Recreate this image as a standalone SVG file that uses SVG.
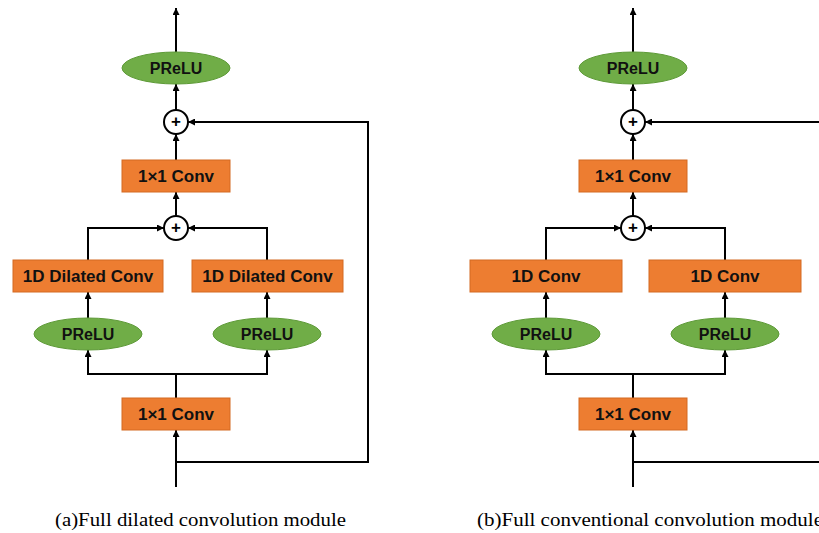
<svg xmlns="http://www.w3.org/2000/svg" width="819" height="533" viewBox="0 0 819 533">
  <defs>
    <marker id="arrow" viewBox="0 0 10 10" refX="10" refY="5" markerWidth="7" markerHeight="7" markerUnits="userSpaceOnUse" orient="auto">
      <path d="M0,0 L10,5 L0,10 z" fill="#000"/>
    </marker>
  </defs>
  <style>
    .box { fill: #ED7D31; stroke: #D46A22; stroke-width: 1; }
    .act { fill: #70AD47; stroke: #5E9A38; stroke-width: 1; }
    .sum { fill: #fff; stroke: #000; stroke-width: 2; }
    .lbl { font-family: "Liberation Sans", Arial, sans-serif; font-weight: bold; font-size: 16px; fill: #111; text-anchor: middle; dominant-baseline: central; }
    .blbl { font-size: 17px; }
    .plus { font-family: "Liberation Sans", Arial, sans-serif; font-weight: bold; font-size: 17px; fill: #000; text-anchor: middle; dominant-baseline: central; }
    .cap { font-family: "Liberation Serif", "Times New Roman", serif; font-size: 18px; fill: #000; }
    .wire { fill: none; stroke: #000; stroke-width: 2; }
    .arr { marker-end: url(#arrow); }
  </style>

  <!-- (a) full dilated convolution module -->
  <g id="moduleA">
    <g id="connectorsA">
      <path class="wire arr" d="M176,52 V8"/>
      <path class="wire arr" d="M176,110 V84"/>
      <path class="wire arr" d="M176,160 V134"/>
      <path class="wire arr" d="M176,216 V192"/>
      <path class="wire arr" d="M88,260 V228 H164"/>
      <path class="wire arr" d="M267,260 V228 H188"/>
      <path class="wire arr" d="M88,318 V292"/>
      <path class="wire arr" d="M267,318 V292"/>
      <path class="wire" d="M176,398 V374"/>
      <path class="wire arr" d="M176,374 H88 V350"/>
      <path class="wire arr" d="M176,374 H267 V350"/>
      <path class="wire arr" d="M176,487 V430"/>
      <path class="wire arr" d="M176,462 H368 V122 H188"/>
    </g>
    <g id="a-prelu-out"><ellipse class="act" cx="176" cy="68" rx="54" ry="16"/><text class="lbl" x="176" y="68">PReLU</text></g>
    <g id="a-sum-out"><circle class="sum" cx="176" cy="122" r="12"/><text class="plus" x="176" y="121">+</text></g>
    <g id="a-conv1x1-out"><rect class="box" x="122" y="160" width="108" height="32"/><text class="lbl blbl" x="176" y="176">1×1 Conv</text></g>
    <g id="a-sum-branch"><circle class="sum" cx="176" cy="228" r="12"/><text class="plus" x="176" y="227">+</text></g>
    <g id="a-dconv-left"><rect class="box" x="13" y="260" width="150" height="32"/><text class="lbl blbl" x="88" y="276">1D Dilated Conv</text></g>
    <g id="a-dconv-right"><rect class="box" x="192" y="260" width="151" height="32"/><text class="lbl blbl" x="267.5" y="276">1D Dilated Conv</text></g>
    <g id="a-prelu-left"><ellipse class="act" cx="88" cy="334" rx="54" ry="16"/><text class="lbl" x="88" y="334">PReLU</text></g>
    <g id="a-prelu-right"><ellipse class="act" cx="267" cy="334" rx="54" ry="16"/><text class="lbl" x="267" y="334">PReLU</text></g>
    <g id="a-conv1x1-in"><rect class="box" x="122" y="398" width="108" height="32"/><text class="lbl blbl" x="176" y="414">1×1 Conv</text></g>
  </g>

  <!-- (b) full conventional convolution module -->
  <g id="moduleB">
    <g id="connectorsB">
      <path class="wire arr" d="M633,52 V8"/>
      <path class="wire arr" d="M633,110 V84"/>
      <path class="wire arr" d="M633,160 V134"/>
      <path class="wire arr" d="M633,216 V192"/>
      <path class="wire arr" d="M546,260 V228 H621"/>
      <path class="wire arr" d="M725,260 V228 H645"/>
      <path class="wire arr" d="M546,318 V292"/>
      <path class="wire arr" d="M725,318 V292"/>
      <path class="wire" d="M633,398 V374"/>
      <path class="wire arr" d="M633,374 H546 V350"/>
      <path class="wire arr" d="M633,374 H725 V350"/>
      <path class="wire arr" d="M633,487 V430"/>
      <path class="wire arr" d="M633,462 H830 V122 H645"/>
    </g>
    <g id="b-prelu-out"><ellipse class="act" cx="633" cy="68" rx="54" ry="16"/><text class="lbl" x="633" y="68">PReLU</text></g>
    <g id="b-sum-out"><circle class="sum" cx="633" cy="122" r="12"/><text class="plus" x="633" y="121">+</text></g>
    <g id="b-conv1x1-out"><rect class="box" x="579" y="160" width="108" height="32"/><text class="lbl blbl" x="633" y="176">1×1 Conv</text></g>
    <g id="b-sum-branch"><circle class="sum" cx="633" cy="228" r="12"/><text class="plus" x="633" y="227">+</text></g>
    <g id="b-conv-left"><rect class="box" x="470" y="260" width="152" height="32"/><text class="lbl blbl" x="546" y="276">1D Conv</text></g>
    <g id="b-conv-right"><rect class="box" x="649" y="260" width="152" height="32"/><text class="lbl blbl" x="725" y="276">1D Conv</text></g>
    <g id="b-prelu-left"><ellipse class="act" cx="546" cy="334" rx="54" ry="16"/><text class="lbl" x="546" y="334">PReLU</text></g>
    <g id="b-prelu-right"><ellipse class="act" cx="725" cy="334" rx="54" ry="16"/><text class="lbl" x="725" y="334">PReLU</text></g>
    <g id="b-conv1x1-in"><rect class="box" x="579" y="398" width="108" height="32"/><text class="lbl blbl" x="633" y="414">1×1 Conv</text></g>
  </g>

  <!-- captions -->
  <text class="cap" x="55" y="526" textLength="291" lengthAdjust="spacingAndGlyphs">(a)Full dilated convolution module</text>
  <text class="cap" x="477" y="526" textLength="346" lengthAdjust="spacingAndGlyphs">(b)Full conventional convolution module</text>
</svg>
